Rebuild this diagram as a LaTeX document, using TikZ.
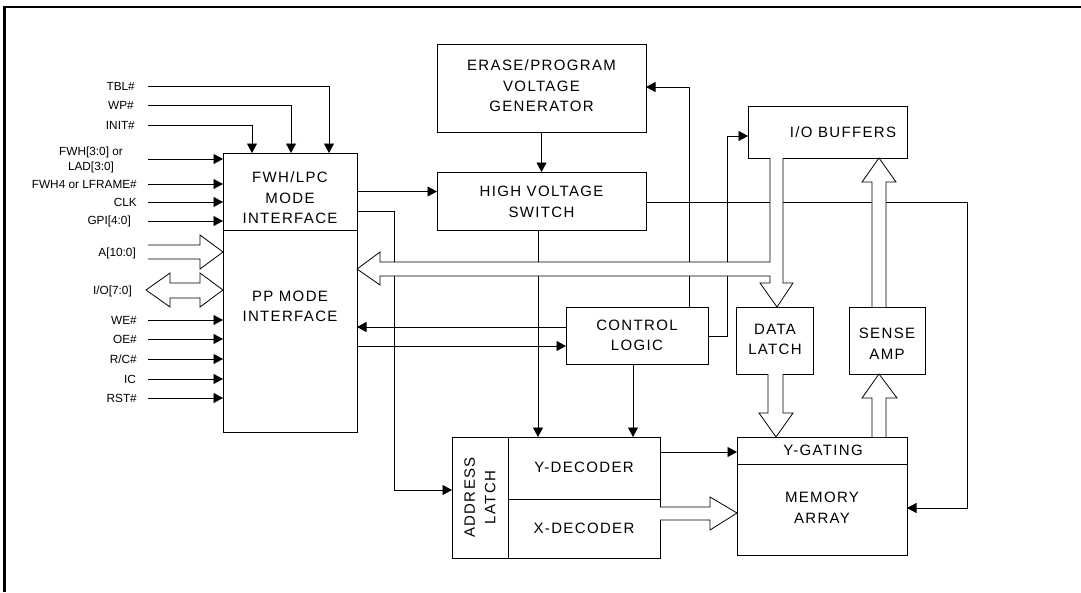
\documentclass[tikz,border=0pt]{standalone}
\usepackage{fontspec}
\setmainfont{Liberation Sans}
\newfontfamily\boxfont[LetterSpace=9]{Liberation Sans}
\usetikzlibrary{arrows.meta,calc}
\tikzset{
  box/.style={draw, line width=0.9pt, inner sep=0pt, outer sep=0pt},
  boxtxt/.style={font=\boxfont\fontsize{15}{20.5}\selectfont, align=center, inner sep=0pt},
  sig/.style={font=\fontsize{11.8}{15}\selectfont, anchor=east, inner sep=0pt},
  wire/.style={line width=0.8pt},
  arr/.style={wire, -{Triangle[length=9.5pt,width=10pt]}},
  bus/.style={draw, fill=white, line width=0.8pt, line join=miter},
}
\begin{document}
\begin{tikzpicture}[x=1pt,y=-1pt]
\useasboundingbox (0,0) rectangle (1081,592);
% frame
\draw[line width=2.6pt] (4.5,592) -- (4.5,7) -- (1081,7);

% boxes
\node[box, minimum width=134, minimum height=77] (fwh) at (290,191.5) {};
\node[boxtxt] (fwhT) at (290,198) {FWH/LPC\\MODE\\INTERFACE};
\node[box, minimum width=134, minimum height=202] (pp) at (290,331) {};
\node[boxtxt] (ppT) at (290,306.5) {PP MODE\\INTERFACE};
\node[box, minimum width=209, minimum height=88] (epvg) at (541.5,88) {};
\node[boxtxt] (epvgT) at (541.5,86) {ERASE/PROGRAM\\VOLTAGE\\GENERATOR};
\node[box, minimum width=209, minimum height=58] (hvs) at (541.5,201) {};
\node[boxtxt] (hvsT) at (541.5,202) {HIGH VOLTAGE\\SWITCH};
\node[box, minimum width=159, minimum height=52] (iob) at (827.5,132) {};
\node[boxtxt] (iobT) at (843,132) {I/O BUFFERS};
\node[box, minimum width=142, minimum height=57] (cl) at (637,335.5) {};
\node[boxtxt] (clT) at (637,335.5) {CONTROL\\LOGIC};
\node[box, minimum width=77, minimum height=67] (dl) at (774.5,340.5) {};
\node[boxtxt] (dlT) at (775,339.5) {DATA\\LATCH};
\node[box, minimum width=76, minimum height=67] (sa) at (887,340.5) {};
\node[boxtxt] (saT) at (887,344) {SENSE\\AMP};
\node[box, minimum width=56, minimum height=121] (adl) at (480,497.5) {};
\node[boxtxt, rotate=90] (adlT) at (480,497.5) {ADDRESS\\LATCH};
\node[box, minimum width=152, minimum height=62] (yd) at (584,468) {};
\node[boxtxt] (ydT) at (584,467) {Y-DECODER};
\node[box, minimum width=152, minimum height=59] (xd) at (584,528.5) {};
\node[boxtxt] (xdT) at (584,528) {X-DECODER};
\node[box, minimum width=170, minimum height=27] (yg) at (822,450.5) {};
\node[boxtxt] (ygT) at (823,450) {Y-GATING};
\node[box, minimum width=170, minimum height=91] (ma) at (822,509.5) {};
\node[boxtxt] (maT) at (822,508) {MEMORY\\ARRAY};

% signal labels
\node[sig] (lTBL) at (135,86) {TBL\#};
\node[sig] (lWP) at (134,105) {WP\#};
\node[sig] (lINIT) at (135,125) {INIT\#};
\node[sig, anchor=center, align=center, font=\fontsize{11.8}{15.5}\selectfont] (lFWH) at (91,160) {FWH[3:0] or\\LAD[3:0]};
\node[sig] (lLF) at (137,184) {FWH4 or LFRAME\#};
\node[sig] (lCLK) at (137,202) {CLK};
\node[sig] (lGPI) at (131,221) {GPI[4:0]};
\node[sig] (lA) at (136,253) {A[10:0]};
\node[sig] (lIO) at (132,291) {I/O[7:0]};
\node[sig] (lWE) at (137,320) {WE\#};
\node[sig] (lOE) at (137,339) {OE\#};
\node[sig] (lRC) at (137,359) {R/C\#};
\node[sig] (lIC) at (136,379) {IC};
\node[sig] (lRST) at (137,398) {RST\#};

% signal start points
\coordinate (sTBL) at (148,86);
\coordinate (sWP) at (148,105);
\coordinate (sINIT) at (148,125);
\coordinate (sFWH) at (148,159);
\coordinate (sLF) at (148,184);
\coordinate (sCLK) at (148,202);
\coordinate (sGPI) at (148,221);
\coordinate (sWE) at (148,320);
\coordinate (sOE) at (148,339);
\coordinate (sRC) at (148,359);
\coordinate (sIC) at (148,379);
\coordinate (sRST) at (148,398);

\draw[arr] (sTBL) -| (329,0 |- fwh.north);
\draw[arr] (sWP) -| (291,0 |- fwh.north);
\draw[arr] (sINIT) -| (252,0 |- fwh.north);
\foreach \s in {sFWH,sLF,sCLK,sGPI}{\draw[arr] (\s) -- (\s -| fwh.west);}
\foreach \s in {sWE,sOE,sRC,sIC,sRST}{\draw[arr] (\s) -- (\s -| pp.west);}

% internal wires
\draw[arr] (fwh.east) -- (fwh.east -| hvs.west);
\draw[arr] (fwh.east |- 0,211) -| (394,490) -- (adl.west |- 0,490);
\draw[arr] (epvg.south) -- (hvs.north);
\draw[arr] (538,0 |- hvs.south) -- (538,0 |- yd.north);
\draw[arr] (633,0 |- cl.south) -- (633,0 |- yd.north);
\draw[arr] (cl.west |- 0,327) -- (pp.east |- 0,327);
\draw[arr] (pp.east |- 0,346) -- (cl.west |- 0,346);
\draw[arr] (689,0 |- cl.north) |- (epvg.east |- 0,87);
\draw[arr] (cl.east |- 0,336) -| (727,136) -- (iob.west |- 0,136);
\draw[arr] (hvs.east |- 0,202) -| (967,508) -- (ma.east |- 0,508);
\draw[arr] (yd.east |- 0,452) -- (yg.west |- 0,452);

% buses
\draw[bus] (148,245) -- (200,245) -- (200,235) -- (223,252) -- (200,269) -- (200,259) -- (148,259);
\draw[bus] (170,283) -- (200,283) -- (200,273) -- (223,290) -- (200,307) -- (200,298) -- (170,298) -- (170,307) -- (146,290) -- (170,273) -- cycle;
\draw[bus] (783,158) -- (783,283) -- (793,283) -- (777,307) -- (760,283) -- (770,283) -- (770,276) -- (380,276) -- (380,285) -- (357,269) -- (380,252) -- (380,262) -- (770,262) -- (770,158);
\draw[bus] (886,307) -- (886,182) -- (896,182) -- (879,158) -- (862,182) -- (872,182) -- (872,307);
\draw[bus] (768,374) -- (768,413) -- (759,413) -- (776,437) -- (793,413) -- (783,413) -- (783,374);
\draw[bus] (872,437) -- (872,398) -- (862,398) -- (879,374) -- (897,398) -- (886,398) -- (886,437);
\draw[bus] (660,507) -- (710,507) -- (710,497) -- (737,513) -- (710,530) -- (710,520) -- (660,520);
\end{tikzpicture}
\end{document}
